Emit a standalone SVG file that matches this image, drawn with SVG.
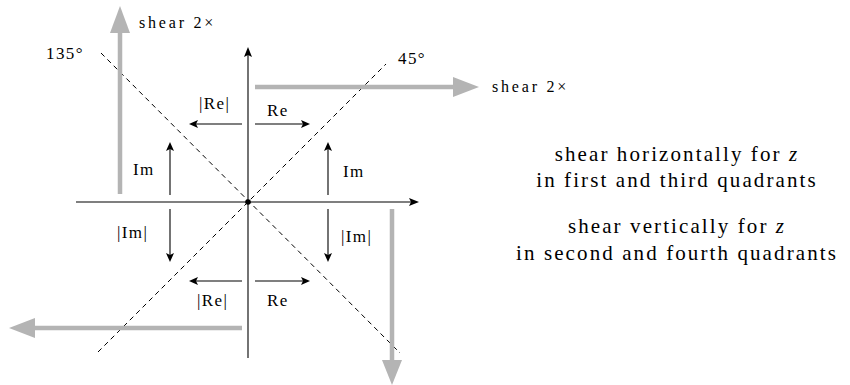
<svg xmlns="http://www.w3.org/2000/svg" width="850" height="385" viewBox="0 0 850 385">
<style>
.t{font-family:"Liberation Serif","Times New Roman",serif;fill:#000}
.lab{font-size:17px;letter-spacing:1.4px}
.sm{font-size:16px;letter-spacing:2.8px}
.big{font-size:21px;letter-spacing:2.1px;text-anchor:middle}
.ax{stroke:#000;stroke-width:1.1;fill:none}
.dash{stroke:#000;stroke-width:1;stroke-dasharray:5 4;fill:none}
.gr{stroke:#b4b4b4;stroke-width:4.5;fill:none}
.grh{fill:#b4b4b4}
.bk{stroke:#000;stroke-width:1.1;fill:none}
.bkh{fill:#000}
</style>
<rect width="850" height="385" fill="#fff"/>
<g id="connectors">
  <g id="axes">
    <line class="ax" x1="76" y1="202" x2="412" y2="202"/>
    <polygon class="bkh" points="419,202 409,198 411,202 409,206"/>
    <line class="ax" x1="248" y1="358" x2="248" y2="54"/>
    <polygon class="bkh" points="248,47 244,57 248,55 252,57"/>
    <circle cx="248" cy="202" r="2.8" fill="#000"/>
  </g>
  <g id="diagonals">
    <line class="dash" x1="98" y1="352" x2="386" y2="64"/>
    <line class="dash" x1="101" y1="53" x2="400" y2="353"/>
  </g>
  <g id="shear-arrows">
    <line class="gr" x1="120" y1="194" x2="120" y2="28"/>
    <polygon class="grh" points="120,6 110,33 130,33"/>
    <line class="gr" x1="255" y1="87" x2="456" y2="87"/>
    <polygon class="grh" points="479,87 453,77 453,97"/>
    <line class="gr" x1="242" y1="328" x2="32" y2="328"/>
    <polygon class="grh" points="9,328 35,318 35,338"/>
    <line class="gr" x1="392" y1="209" x2="392" y2="364"/>
    <polygon class="grh" points="392,385 382,360 402,360"/>
  </g>
  <g id="component-arrows">
    <line class="bk" x1="242" y1="124" x2="196" y2="124"/>
    <polygon class="bkh" points="189,124 198,120 196,124 198,128"/>
    <line class="bk" x1="255" y1="124" x2="303" y2="124"/>
    <polygon class="bkh" points="310,124 301,120 303,124 301,128"/>
    <line class="bk" x1="170" y1="195" x2="170" y2="149"/>
    <polygon class="bkh" points="170,142 166,151 170,149 174,151"/>
    <line class="bk" x1="328" y1="195" x2="328" y2="149"/>
    <polygon class="bkh" points="328,142 324,151 328,149 332,151"/>
    <line class="bk" x1="170" y1="209" x2="170" y2="255"/>
    <polygon class="bkh" points="170,262 166,253 170,255 174,253"/>
    <line class="bk" x1="328" y1="209" x2="328" y2="255"/>
    <polygon class="bkh" points="328,262 324,253 328,255 332,253"/>
    <line class="bk" x1="242" y1="281" x2="196" y2="281"/>
    <polygon class="bkh" points="189,281 198,277 196,281 198,285"/>
    <line class="bk" x1="255" y1="281" x2="303" y2="281"/>
    <polygon class="bkh" points="310,281 301,277 303,281 301,285"/>
  </g>
</g>
<g id="labels">
  <text class="t sm" x="139" y="28">shear 2×</text>
  <text class="t sm" x="492" y="92">shear 2×</text>
  <text class="t lab" x="46" y="59">135°</text>
  <text class="t lab" x="398" y="64">45°</text>
  <text class="t lab" x="199" y="109">|Re|</text>
  <text class="t lab" x="267" y="116">Re</text>
  <text class="t lab" x="133" y="175">Im</text>
  <text class="t lab" x="343" y="177">Im</text>
  <text class="t lab" x="117" y="238">|Im|</text>
  <text class="t lab" x="341" y="242">|Im|</text>
  <text class="t lab" x="197" y="306">|Re|</text>
  <text class="t lab" x="267" y="306">Re</text>
</g>
<g id="description">
  <text class="t big" x="677" y="161">shear horizontally for <tspan font-style="italic">z</tspan></text>
  <text class="t big" x="677" y="187">in first and third quadrants</text>
  <text class="t big" x="677" y="233">shear vertically for <tspan font-style="italic">z</tspan></text>
  <text class="t big" x="677" y="260">in second and fourth quadrants</text>
</g>
</svg>
